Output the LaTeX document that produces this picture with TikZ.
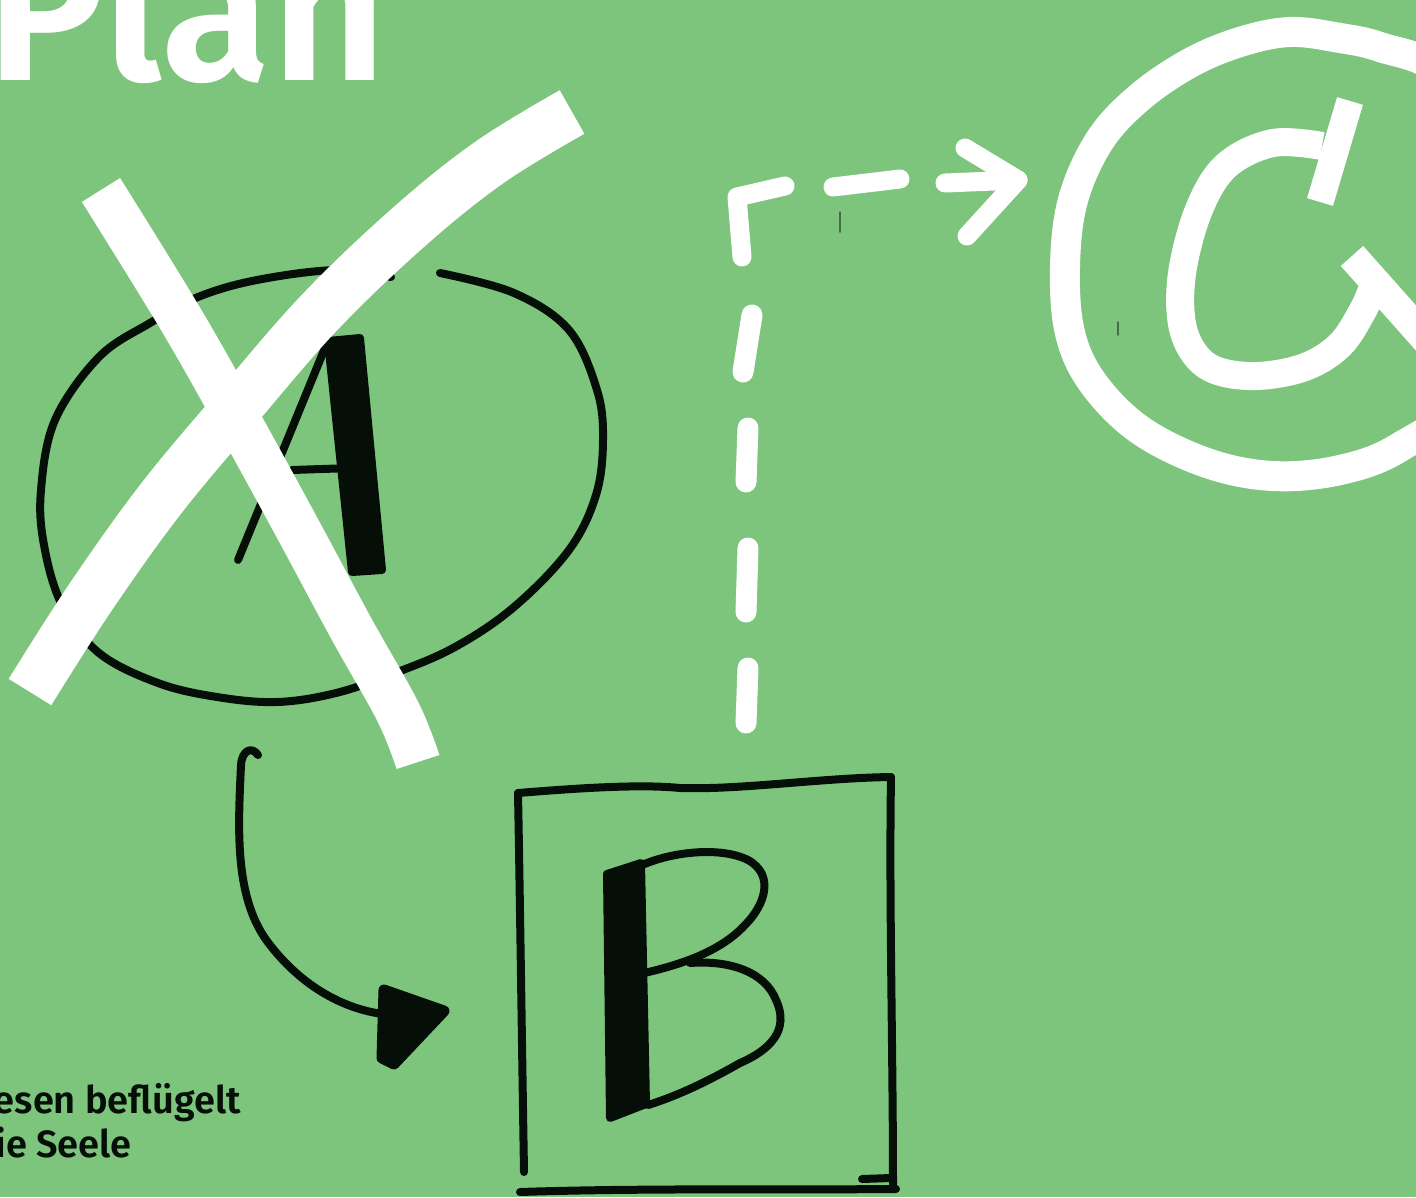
\documentclass[tikz,border=0pt]{standalone}
\usepackage{fontspec}
\setmainfont{Fira Sans}
\newfontfamily\firasemi{Fira Sans SemiBold}
\definecolor{bg}{RGB}{125,197,125}
\definecolor{ink}{RGB}{6,14,8}
\definecolor{tick}{RGB}{70,110,70}
\begin{document}
\begin{tikzpicture}[x=1pt,y=-1pt,line cap=round,line join=round,
  pen/.style={draw=ink,line width=8pt},
  thickpen/.style={draw=ink,fill=ink,line width=8pt},
  brush/.style={draw=white,line width=#1},
  dashstroke/.style={draw=white,line width=19pt},
  titletext/.style={inner sep=0pt,text=white,font=\fontsize{200}{200}\selectfont\firasemi},
  mottotext/.style={inner sep=0pt,text=ink,font=\fontsize{38}{44}\selectfont\firasemi}]
\useasboundingbox (0,0) rectangle (1416,1197);
\clip (0,0) rectangle (1416,1197);
\fill[bg] (0,0) rectangle (1416,1197);

% title and motto
\node[titletext,anchor=base east] (title) at (387,80) {Plan};
\node[mottotext,anchor=base east] (motto1) at (241,1113) {Lesen beflügelt};
\node[mottotext,anchor=base east] (motto2) at (132,1157) {die Seele};

% ellipse A (open loop)
\coordinate (ellA) at (322,485);
\draw[pen] plot[smooth,tension=0.6] coordinates {(440,273) (514,293) (569,330) (597,390) (603,440) (596,495) (569,550) (514,607) (455,647) (395,673) (336,693) (277,702) (217,697) (158,683) (99,653) (62,605) (44,545) (41,490) (55,420) (99,357) (150,323) (198,297) (257,280) (336,270) (391,277)};
% letter A
\draw[pen] (238,560) -- (327,343);
\draw[pen] (292,470) -- (352,468);
\draw[thickpen] (328,341) -- (360,338) -- (382,570) -- (352,572) -- cycle;

% white cross
\draw[brush=45pt,line cap=butt] plot[smooth,tension=0.6] coordinates {(101,190) (180,318) (238,420) (294,522) (351,628) (398,712) (418,762)};
\draw[brush=50pt,line cap=butt] plot[smooth,tension=0.6] coordinates {(30,692) (90,598) (160,500) (235,410) (320,312) (410,226) (490,162) (572,112)};

% curved arrow A -> B
\coordinate (arrS) at (258,755);
\coordinate (arrE) at (392,1015);
\draw[pen] (arrS) .. controls (252,746) and (242,750) .. (241,765)
  .. controls (238,830) and (234,900) .. (270,945)
  .. controls (305,990) and (350,1012) .. (arrE);
\draw[thickpen,line width=11pt] (384,990) -- (444,1011) -- (394,1064) -- (382,1058) -- cycle;

% box B
\coordinate (boxTL) at (518,793);
\coordinate (boxTR) at (891,777);
\coordinate (boxBL) at (524,1172);
\coordinate (boxBR) at (893,1188);
\draw[pen] (boxTL) .. controls (580,788) and (640,784) .. (680,788)
  .. controls (740,790) and (820,778) .. (boxTR);
\draw[pen] (boxTL) .. controls (520,900) and (522,1050) .. (boxBL);
\draw[pen] (boxTR) .. controls (889,900) and (893,1050) .. (boxBR);
\draw[pen] (520,1192) .. controls (640,1188) and (780,1190) .. (896,1189);
\draw[pen] (862,1179) -- (891,1178);
% letter B
\draw[thickpen] (607,874) -- (641,863) -- (646,1104) -- (610,1118) -- cycle;
\draw[pen] (640,866) .. controls (670,852) and (720,846) .. (748,860)
  .. controls (775,875) and (765,905) .. (745,925)
  .. controls (720,952) and (680,965) .. (640,974);
\draw[pen] (690,963) .. controls (730,960) and (765,972) .. (776,1000)
  .. controls (790,1030) and (770,1050) .. (740,1063)
  .. controls (710,1080) and (680,1095) .. (648,1105);

% dashed white connector B -> C
\coordinate (dashS) at (746,723);
\draw[dashstroke,line width=21pt] (dashS) -- (748,668);
\draw[dashstroke,line width=21pt] (746,612) -- (748,548);
\draw[dashstroke,line width=21pt] (746,482) -- (748,428);
\draw[dashstroke,line width=21pt] (743,372) -- (752,315);
\draw[dashstroke] (742,257) -- (737,197) -- (785,186);
\draw[dashstroke] (833,187) -- (900,179);
\coordinate (dashE) at (1018,180);
\draw[dashstroke] (945,183) -- (dashE);
\draw[dashstroke] (965,148) -- (dashE) -- (967,236);

% circle C
\draw[brush=30pt] plot[smooth cycle,tension=0.6] coordinates {(1290,32) (1240,42) (1190,63) (1140,97) (1100,140) (1073,200) (1065,267) (1070,333) (1093,383) (1140,430) (1207,463) (1273,476) (1340,470) (1400,447) (1470,390) (1505,260) (1490,150) (1440,72) (1380,47) (1340,38)};
% letter C
\draw[brush=27pt,line cap=butt] (1350,101) -- (1320,202);
\draw[brush=28pt,line cap=butt] plot[smooth,tension=0.6] coordinates {(1322,146) (1273,143) (1227,165) (1200,207) (1183,267) (1181,317) (1192,350) (1215,370) (1257,376) (1305,367) (1340,345) (1362,312) (1372,290)};
\draw[brush=30pt,line cap=butt] (1352,256) -- (1432,346);

% tiny pen marks
\draw[tick,line width=1.5pt] (840,212) -- (840,232);
\draw[tick,line width=1.5pt] (1118,322) -- (1118,335);
\end{tikzpicture}
\end{document}
